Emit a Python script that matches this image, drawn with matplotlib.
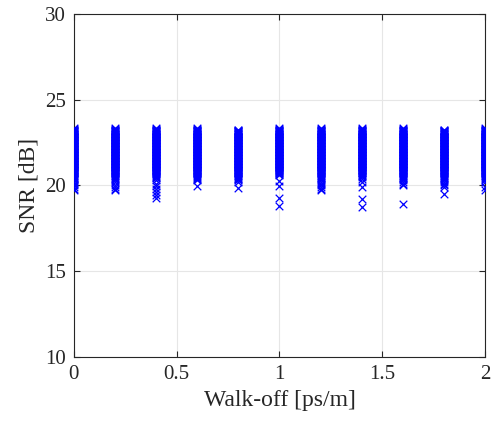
import numpy as np
import matplotlib
matplotlib.use('Agg')
from matplotlib import pyplot as plt

# walk-off values (ps/m)
walkoff = [0.0, 0.2, 0.4, 0.6, 0.8, 1.0, 1.2, 1.4, 1.6, 1.8, 2.0]

# bulk of SNR samples common to every walk-off value (dB)
snr_core = [20.75, 20.78, 20.8, 20.83, 20.85, 20.88, 20.9, 20.93, 20.95, 20.98,
            21.0, 21.03, 21.05, 21.08, 21.1, 21.13, 21.15, 21.18, 21.2, 21.23,
            21.25, 21.28, 21.3, 21.33, 21.35, 21.38, 21.4, 21.43, 21.45, 21.48,
            21.5, 21.53, 21.55, 21.58, 21.6, 21.63, 21.65, 21.68, 21.7, 21.73,
            21.75, 21.78, 21.8, 21.83, 21.85, 21.88, 21.9, 21.93, 21.95, 21.98,
            22.0, 22.03, 22.05, 22.08, 22.1, 22.13, 22.15, 22.18, 22.2, 22.23,
            22.25, 22.28, 22.3, 22.33, 22.35, 22.38, 22.4, 22.43, 22.45, 22.48,
            22.5, 22.53, 22.55, 22.58, 22.6, 22.63, 22.65, 22.68, 22.7, 22.73,
            22.75, 22.78, 22.8, 22.83, 22.85, 22.88, 22.9, 22.93, 22.95, 22.98,
            23.0, 23.03, 23.05, 23.08, 23.1, 23.13, 23.15, 23.18, 23.2, 23.22]

# extra samples (top and low tail) per walk-off value
snr_extra = [
    [23.25, 23.3, 23.35, 20.72, 20.65, 20.6, 20.55, 20.5, 20.45, 20.4, 20.35, 20.3, 20.2, 20.1, 20.0, 19.9, 19.8, 19.75],
    [23.25, 23.3, 23.35, 20.72, 20.65, 20.6, 20.55, 20.5, 20.45, 20.4, 20.3, 20.2, 20.05, 19.9, 19.8, 19.72],
    [23.25, 23.3, 23.38, 20.72, 20.65, 20.6, 20.55, 20.5, 20.45, 20.3, 20.1, 19.95, 19.8, 19.6, 19.45, 19.3],
    [23.25, 23.3, 23.35, 20.72, 20.65, 20.6, 20.55, 20.5, 20.45, 20.4, 20.3, 19.95],
    [23.25, 20.72, 20.65, 20.6, 20.55, 20.5, 20.45, 20.4, 20.35, 20.3, 20.2, 19.85],
    [23.25, 23.3, 23.35, 20.72, 20.65, 20.6, 20.25, 19.95, 19.3, 18.8],
    [23.25, 23.3, 23.38, 20.72, 20.65, 20.6, 20.55, 20.5, 20.45, 20.4, 20.3, 20.2, 20.1, 20.0, 19.9, 19.8, 19.75],
    [23.25, 23.3, 23.38, 20.72, 20.65, 20.6, 20.55, 20.5, 20.4, 20.2, 19.9, 19.2, 18.75],
    [23.25, 23.3, 23.35, 20.72, 20.65, 20.6, 20.55, 20.5, 20.45, 20.4, 20.3, 20.2, 20.1, 20.0, 18.9],
    [23.24, 20.72, 20.65, 20.6, 20.55, 20.5, 20.45, 20.4, 20.3, 20.2, 20.1, 20.0, 19.9, 19.5],
    [23.25, 23.3, 23.38, 20.72, 20.65, 20.6, 20.55, 20.5, 20.45, 20.4, 20.3, 20.2, 19.9, 19.75],
]

plt.rcParams['font.family'] = 'Liberation Serif'

fig = plt.figure(figsize=(4.96, 4.24), dpi=100)
ax = fig.add_axes([0.149, 0.158, 0.829, 0.809])

for w, extra in zip(walkoff, snr_extra):
    ys = snr_core + extra
    ax.scatter([w]*len(ys), ys, marker='x', s=30, c='#0000ff', linewidths=0.9, zorder=3)

ax.set_xlim(0, 2)
ax.set_ylim(10, 30)
ax.set_xticks([0, 0.5, 1, 1.5, 2])
ax.set_xticklabels(['0', '0.5', '1', '1.5', '2'])
ax.set_yticks([10, 15, 20, 25, 30])
ax.grid(True, color='#e6e6e6', linewidth=0.8)
ax.set_axisbelow(True)
ax.tick_params(direction='in', length=4, labelsize=15, colors='#262626',
               top=True, right=True, pad=6)
for sp in ax.spines.values():
    sp.set_color('#262626')
    sp.set_linewidth(0.8)

ax.set_xlabel('Walk-off [ps/m]', fontsize=17, color='#262626')
ax.set_ylabel('SNR [dB]', fontsize=17, color='#262626')

fig.savefig('out.png', dpi=100)
